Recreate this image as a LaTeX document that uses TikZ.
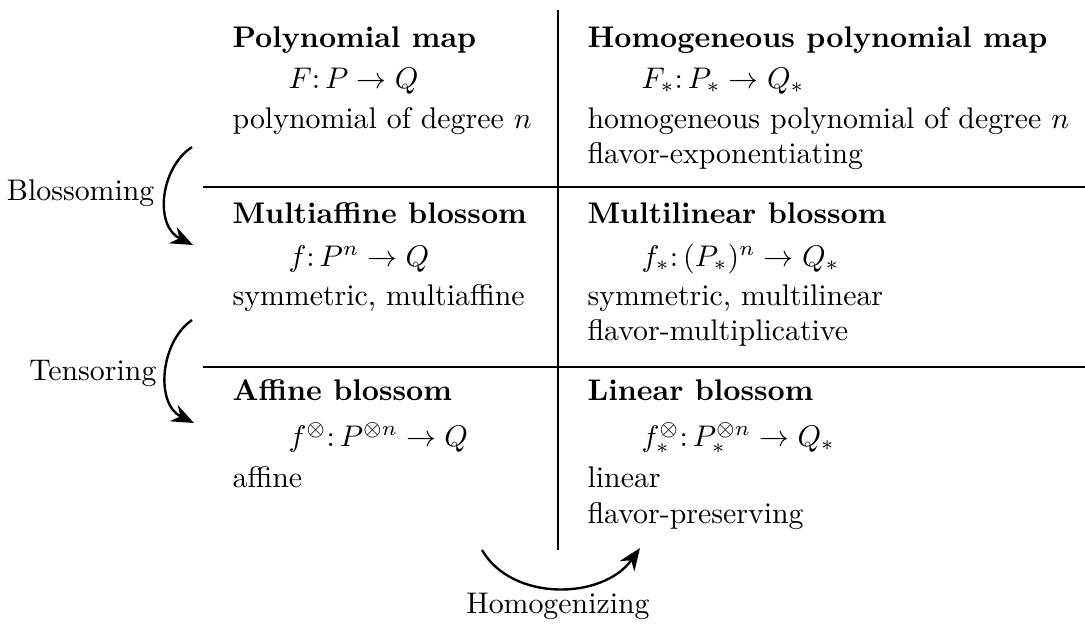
\documentclass[tikz,border=0pt]{standalone}
\usetikzlibrary{arrows.meta}
\begin{document}
\begin{tikzpicture}[x=0.335pt,y=-0.335pt,
    head/.style={anchor=base west,inner sep=0pt,font=\bfseries},
    line/.style={anchor=base west,inner sep=0pt},
    side/.style={anchor=base east,inner sep=0pt},
    turn/.style={thick,-{Stealth[length=7.5pt,width=6pt]}}]
    \useasboundingbox (0,0) rectangle (1085,623);
    % Grid
    \draw[semithick] (558,10) -- (558,550);
    \draw[semithick] (203,187) -- (1085,187);
    \draw[semithick] (203,367) -- (1085,367);
    % Polynomial map
    \node[head] (pm) at (232,47) {Polynomial map};
    \node[line] (pmmap) at (288,88) {$F\colon P\to Q$};
    \node[line] (pmdeg) at (232,128) {polynomial of degree $n$};
    % Homogeneous polynomial map
    \node[head] (hpm) at (587,47) {Homogeneous polynomial map};
    \node[line] (hpmmap) at (641,88) {$F_*\colon P_*\to Q_*$};
    \node[line] (hpmdeg) at (587,128) {homogeneous polynomial of degree $n$};
    \node[line] (hpmflav) at (587,163) {flavor-exponentiating};
    % Multiaffine blossom
    \node[head] (mab) at (232,223) {Multiaffine blossom};
    \node[line] (mabmap) at (288,266) {$f\colon P^n\to Q$};
    \node[line] (mabsym) at (232,305) {symmetric, multiaffine};
    % Multilinear blossom
    \node[head] (mlb) at (587,223) {Multilinear blossom};
    \node[line] (mlbmap) at (641,266) {$f_*\colon (P_*)^n\to Q_*$};
    \node[line] (mlbsym) at (587,305) {symmetric, multilinear};
    \node[line] (mlbflav) at (587,340) {flavor-multiplicative};
    % Affine blossom
    \node[head] (ab) at (232,400) {Affine blossom};
    \node[line] (abmap) at (288,446) {$f^{\otimes}\colon P^{\otimes n}\to Q$};
    \node[line] (abaff) at (232,487) {affine};
    % Linear blossom
    \node[head] (lb) at (587,400) {Linear blossom};
    \node[line] (lbmap) at (641,446) {$f_*^{\otimes}\colon P_*^{\otimes n}\to Q_*$};
    \node[line] (lblin) at (587,487) {linear};
    \node[line] (lbflav) at (587,523) {flavor-preserving};
    % Blossoming
    \node[side] (bls) at (155,200) {Blossoming};
    \coordinate (bls1) at (192,147);
    \coordinate (bls2) at (193,245);
    \draw[turn] (bls1) .. controls (160,168) and (154,226) .. (bls2);
    % Tensoring
    \node[side] (tns) at (157,380) {Tensoring};
    \coordinate (tns1) at (192,320);
    \coordinate (tns2) at (194,423);
    \draw[turn] (tns1) .. controls (160,342) and (155,404) .. (tns2);
    % Homogenizing
    \node[anchor=base,inner sep=0pt] (hmg) at (558,613) {Homogenizing};
    \coordinate (hmg1) at (482,550);
    \coordinate (hmg2) at (640,548);
    \draw[turn] (hmg1) .. controls (512,602) and (603,600) .. (hmg2);
\end{tikzpicture}
\end{document}
